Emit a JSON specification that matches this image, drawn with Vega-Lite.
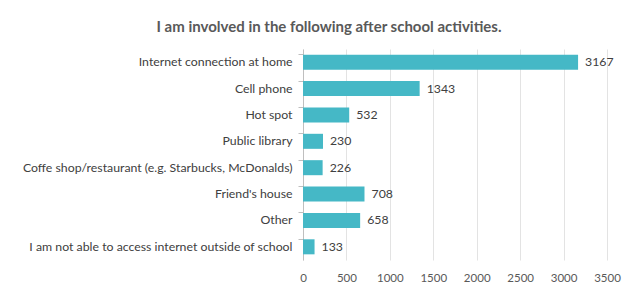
{
  "$schema": "https://vega.github.io/schema/vega-lite/v6.json",
  "autosize": {"type": "none"},
  "width": 304,
  "height": 211,
  "padding": {"left": 303, "top": 49, "right": 34, "bottom": 37},
  "background": "white",
  "title": {
    "text": "I am involved in the following after school activities.",
    "font": "Lato",
    "fontSize": 15,
    "fontWeight": "bold",
    "color": "#595959",
    "anchor": "middle",
    "dx": -126,
    "offset": 14
  },
  "data": {
    "values": [
      {"activity": "Internet connection at home", "count": 3167},
      {"activity": "Cell phone", "count": 1343},
      {"activity": "Hot spot", "count": 532},
      {"activity": "Public library", "count": 230},
      {"activity": "Coffe shop/restaurant (e.g. Starbucks, McDonalds)", "count": 226},
      {"activity": "Friend's house", "count": 708},
      {"activity": "Other", "count": 658},
      {"activity": "I am not able to access internet outside of school", "count": 133}
    ]
  },
  "encoding": {
    "y": {
      "field": "activity",
      "type": "nominal",
      "sort": null,
      "scale": {"paddingInner": 0.43, "paddingOuter": 0.215},
      "axis": {
        "title": null,
        "domainColor": "#BFBFBF",
        "tickColor": "#BFBFBF",
        "tickSize": 5,
        "bandPosition": 0,
        "labelFont": "Lato",
        "labelFontSize": 12.3,
        "labelColor": "#404040",
        "labelPadding": 6,
        "labelLimit": 320
      }
    },
    "x": {
      "field": "count",
      "type": "quantitative",
      "scale": {"domain": [0, 3500], "nice": false},
      "axis": {
        "title": null,
        "values": [0, 500, 1000, 1500, 2000, 2500, 3000, 3500],
        "format": "d",
        "labelOverlap": false,
        "labelFlush": false,
        "labelBound": false,
        "domain": false,
        "ticks": false,
        "grid": true,
        "gridColor": "#E3E3E3",
        "labelFont": "Lato",
        "labelFontSize": 11.5,
        "labelColor": "#595959",
        "labelPadding": 12
      }
    }
  },
  "layer": [
    {"mark": {"type": "bar", "color": "#45B8C6"}},
    {
      "mark": {"type": "text", "align": "left", "dx": 7, "font": "Lato", "fontSize": 12.3, "color": "#404040"},
      "encoding": {"text": {"field": "count", "type": "quantitative", "format": "d"}}
    }
  ],
  "config": {"view": {"stroke": null}}
}
